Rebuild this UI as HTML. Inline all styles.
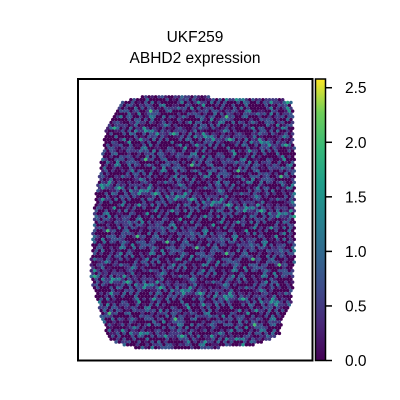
<!DOCTYPE html>
<html><head><meta charset="utf-8"><style>
body{margin:0;background:#fff;}
svg{display:block;font-family:"Liberation Sans","DejaVu Sans",sans-serif;}
</style></head><body>
<svg id="chart" width="400" height="400" viewBox="0 0 400 400">
<text x="195" y="42" text-anchor="middle" font-size="15.5">UKF259</text>
<text x="195" y="63" text-anchor="middle" font-size="15.5">ABHD2 expression</text>
<g id="spots"></g>
<rect x="78" y="79" width="234.5" height="281.5" fill="none" stroke="#000" stroke-width="2"/>
<defs><linearGradient id="vir" x1="0" y1="1" x2="0" y2="0">
<stop offset="0" stop-color="#440154"/><stop offset="0.13" stop-color="#482878"/><stop offset="0.25" stop-color="#3e4989"/><stop offset="0.38" stop-color="#31688e"/><stop offset="0.5" stop-color="#26828e"/><stop offset="0.63" stop-color="#1f9e89"/><stop offset="0.75" stop-color="#35b779"/><stop offset="0.88" stop-color="#6ece58"/><stop offset="1" stop-color="#fde725"/></linearGradient></defs>
<rect x="315.5" y="79" width="10" height="281.5" fill="url(#vir)" stroke="#000" stroke-width="1.5"/>
<g id="cbticks"></g>
</svg>
<script>
const cbTicks=[0.0,0.5,1.0,1.5,2.0,2.5];
const cbMin=0, cbMax=2.58;
// encoded expression values per spot (digit d -> d*0.25), cycled over the hex grid
const spotCodes="0230124003210542003200431060320032100420213003500230124003202031300632001240032015302304201203200620123004200130280320032010420300230500120300432003310230040200320501302000420301206002301240032020303501002200401003070020314032002030300520400230103200402301203010502200340130220060013002303240012200320502301000";
const tissue=[[105,130],[120,102],[150,95],[250,98],[290,100],[294,110],[295,250],[292,300],[283,320],[280,335],[255,345],[200,349],[140,349],[110,341],[102,320],[90,275],[95,200],[103,150]];

const svg=document.getElementById('chart');
const NS='http://www.w3.org/2000/svg';
const yScale=v=>360.5-(v-cbMin)/(cbMax-cbMin)*281.5;
const stops=[[0,[68,1,84]],[0.13,[72,40,120]],[0.25,[62,73,137]],[0.38,[49,104,142]],[0.5,[38,130,142]],[0.63,[31,158,137]],[0.75,[53,183,121]],[0.88,[110,206,88]],[1,[253,231,37]]];
function vir(t){t=Math.max(0,Math.min(1,t));for(let i=1;i<stops.length;i++){if(t<=stops[i][0]){const a=stops[i-1],b=stops[i],f=(t-a[0])/(b[0]-a[0]);return 'rgb('+a[1].map((c,k)=>Math.round(c+(b[1][k]-c)*f)).join(',')+')';}}return 'rgb(253,231,37)';}
function inside(x,y){let c=false;for(let i=0,j=tissue.length-1;i<tissue.length;j=i++){const[xi,yi]=tissue[i],[xj,yj]=tissue[j];if((yi>y)!=(yj>y)&&x<(xj-xi)*(y-yi)/(yj-yi)+xi)c=!c;}return c;}
const g=document.getElementById('spots');
let idx=0;
for(let r=0;r<100;r++){const y=94+r*2.85;const off=(r%2)*1.65;
 for(let c=0;c<66;c++){const x=88+off+c*3.3;if(!inside(x,y))continue;
  const v=(+spotCodes[(idx*7+r*3)%spotCodes.length])*0.25;idx++;
  const e=document.createElementNS(NS,'circle');
  e.setAttribute('cx',x);e.setAttribute('cy',y);e.setAttribute('r',1.75);e.setAttribute('fill',vir(v/cbMax));
  
  
  g.appendChild(e);}}
const tg=document.getElementById('cbticks');
cbTicks.forEach(t=>{const y=yScale(t);
 const l=document.createElementNS(NS,'line');l.setAttribute('x1',326);l.setAttribute('x2',332);l.setAttribute('y1',y);l.setAttribute('y2',y);l.setAttribute('stroke','#000');l.setAttribute('stroke-width',1.5);
 
 
 tg.appendChild(l);
 const tx=document.createElementNS(NS,'text');tx.setAttribute('x',345);tx.setAttribute('y',y+5.5);tx.setAttribute('font-size',15.5);tx.textContent=t.toFixed(1);
 
 
 tg.appendChild(tx);});
</script>
</body></html>
